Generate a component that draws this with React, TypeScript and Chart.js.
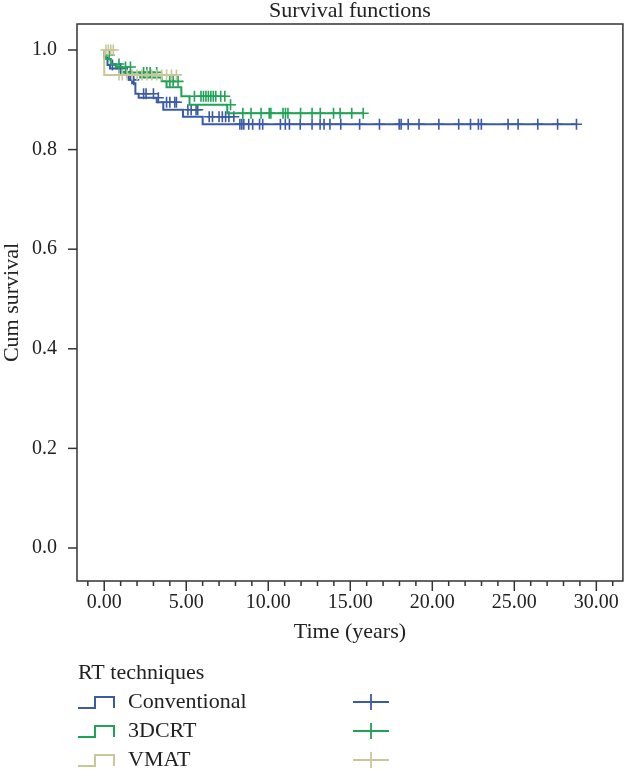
import React, { useEffect, useRef } from "react";
import { Chart, registerables } from "chart.js";

Chart.register(...registerables);

// ---------- Text ----------
const chartTitle = "Survival functions";
const xAxisTitle = "Time (years)";
const yAxisTitle = "Cum survival";
const legendTitle = "RT techniques";
const groupNames = ["Conventional", "3DCRT", "VMAT"];

// ---------- Ticks ----------
const xTickValues = [0, 5, 10, 15, 20, 25, 30];
const yTickValues = [0, 0.2, 0.4, 0.6, 0.8, 1.0];

// ---------- Conventional ----------
const conventionalTimes = [0, 0.2, 0.35, 0.9, 1.3, 1.5, 1.7, 1.9, 2.1, 3.2, 3.6, 4.8, 6.0, 8.2];
const conventionalSurvival = [1.0, 0.985, 0.97, 0.963, 0.956, 0.95, 0.94, 0.933, 0.912, 0.904, 0.895, 0.88, 0.866, 0.851];
const conventionalCensored = [
  0.5, 1.0, 1.4, 1.6, 1.8, 2.4, 2.55, 3.0, 3.3, 3.8, 4.0, 4.3, 4.4, 5.1, 5.3, 5.6, 5.7,
  6.4, 6.6, 7.0, 7.2, 7.4, 7.6, 7.9, 8.27, 8.39, 8.51, 8.81, 9.05, 9.47, 9.66, 10.74,
  11.04, 11.29, 11.95, 12.67, 13.16, 13.4, 13.76, 14.42, 15.57, 16.78, 17.98, 18.1,
  18.53, 19.19, 20.4, 21.61, 22.33, 22.81, 22.99, 24.62, 25.23, 26.43, 27.64, 28.79,
];

// ---------- 3DCRT ----------
const crt3dTimes = [0, 0.1, 0.4, 0.7, 1.1, 2.2, 3.5, 3.8, 4.7, 5.2, 7.5, 8.3];
const crt3dSurvival = [1.0, 0.99, 0.982, 0.972, 0.966, 0.955, 0.945, 0.937, 0.925, 0.907, 0.89, 0.873];
const crt3dCensored = [
  0.3, 0.9, 1.3, 1.6, 2.4, 2.6, 2.8, 3.2, 4.0, 4.2, 4.5, 5.5, 5.9, 6.05, 6.2, 6.35, 6.5,
  6.65, 6.8, 7.1, 7.35, 7.7, 8.45, 8.95, 9.56, 10.06, 10.16, 10.9, 11.05, 11.2, 11.97,
  12.67, 13.17, 13.98, 14.38, 15.09, 15.79,
];

// ---------- VMAT ----------
const vmatTimes = [0, 0.65];
const vmatSurvival = [1.0, 0.95];
const vmatCensored = [0.1, 0.25, 0.4, 0.55, 0.9, 1.1, 1.4, 1.7, 2.0, 2.3, 2.6, 2.9, 3.2, 3.5, 3.8, 4.1, 4.4];

// ---------- Styling ----------
const BLUE = "#3a5aa8";
const GREEN = "#20a257";
const TAN = "#c8c79a";
const FRAME = "#333333";
const TEXT = "#222222";
const FONT = '"Liberation Serif", "Times New Roman", serif';

function survivalAt(times: number[], surv: number[], t: number) {
  let s = surv[0];
  for (let i = 0; i < times.length; i++) if (times[i] <= t) s = surv[i];
  return s;
}

const groups = [
  { name: groupNames[2], times: vmatTimes, surv: vmatSurvival, cens: vmatCensored, color: TAN },
  { name: groupNames[1], times: crt3dTimes, surv: crt3dSurvival, cens: crt3dCensored, color: GREEN },
  { name: groupNames[0], times: conventionalTimes, surv: conventionalSurvival, cens: conventionalCensored, color: BLUE },
];

const decorPlugin = {
  id: "decor",
  afterDraw(chart: any) {
    const { ctx, chartArea: a, scales } = chart;
    const x = scales.x;
    const y = scales.y;
    ctx.save();
    ctx.strokeStyle = FRAME;
    ctx.lineWidth = 1.5;
    ctx.strokeRect(a.left, a.top, a.right - a.left, a.bottom - a.top);
    const seg = (x1: number, y1: number, x2: number, y2: number) => {
      ctx.beginPath();
      ctx.moveTo(x1, y1);
      ctx.lineTo(x2, y2);
      ctx.stroke();
    };
    yTickValues.forEach((v) => {
      const py = y.getPixelForValue(v);
      seg(a.left - 9, py, a.left, py);
    });
    for (let v = Math.ceil(x.min); v <= Math.floor(x.max); v++) {
      const px = x.getPixelForValue(v);
      seg(px, a.bottom, px, a.bottom + (v % 5 === 0 ? 10 : 5));
    }

    ctx.fillStyle = TEXT;
    const cx = (a.left + a.right) / 2;
    ctx.font = `22px ${FONT}`;
    ctx.textAlign = "center";
    ctx.textBaseline = "alphabetic";
    ctx.fillText(chartTitle, cx, 17);
    ctx.textBaseline = "middle";
    ctx.fillText(xAxisTitle, cx, 632);
    ctx.save();
    ctx.translate(12, (a.top + a.bottom) / 2);
    ctx.rotate(-Math.PI / 2);
    ctx.fillText(yAxisTitle, 0, 0);
    ctx.restore();

    // legend
    ctx.textAlign = "left";
    ctx.fillText(legendTitle, 78, 673);
    const legendOrder = [groups[2], groups[1], groups[0]];
    legendOrder.forEach((g, i) => {
      const ly = 702 + 29 * i;
      ctx.strokeStyle = g.color;
      ctx.lineWidth = 2;
      ctx.beginPath();
      ctx.moveTo(78, ly + 6);
      ctx.lineTo(95, ly + 6);
      ctx.lineTo(95, ly - 5);
      ctx.lineTo(114, ly - 5);
      ctx.lineTo(114, ly + 6);
      ctx.stroke();
      ctx.fillStyle = TEXT;
      ctx.fillText(g.name, 128, ly);
      ctx.lineWidth = 1.8;
      seg(353, ly, 389, ly);
      seg(371, ly - 8, 371, ly + 8);
    });
    ctx.restore();
  },
};

export default function App() {
  const ref = useRef<HTMLCanvasElement | null>(null);
  useEffect(() => {
    if (!ref.current) return;
    Chart.defaults.font.family = FONT;
    Chart.defaults.color = TEXT;
    const datasets: any[] = [];
    groups.forEach((g) => {
      datasets.push({
        label: g.name + " censored",
        data: g.cens.map((t) => ({ x: t, y: survivalAt(g.times, g.surv, t) })),
        showLine: false,
        pointStyle: "cross",
        pointRadius: 5.5,
        pointBorderWidth: 1.6,
        borderColor: g.color,
        backgroundColor: g.color,
      });
      const pts = g.times.map((t, i) => ({ x: t, y: g.surv[i] }));
      const end = Math.max(...g.cens);
      pts.push({ x: end, y: g.surv[g.surv.length - 1] });
      datasets.push({
        label: g.name,
        data: pts,
        showLine: true,
        stepped: "after",
        borderColor: g.color,
        borderWidth: 2,
        pointRadius: 0,
        fill: false,
      });
    });
    const chart = new Chart(ref.current, {
      type: "scatter",
      data: { datasets },
      options: {
        animation: false,
        responsive: false,
        maintainAspectRatio: false,
        layout: { padding: { left: 0, right: 1, top: 24, bottom: 0 } },
        plugins: { legend: { display: false }, title: { display: false }, tooltip: { enabled: false } },
        scales: {
          x: {
            type: "linear",
            min: -1.66,
            max: 31.62,
            afterFit: (s: any) => {
              s.height = 189;
            },
            afterBuildTicks: (s: any) => {
              s.ticks = xTickValues.map((v) => ({ value: v }));
            },
            grid: { display: true, drawOnChartArea: false, drawTicks: true, tickLength: 10, color: "rgba(0,0,0,0)" },
            border: { display: false },
            ticks: {
              padding: 0,
              maxRotation: 0,
              autoSkip: false,
              font: { size: 20, family: FONT },
              color: TEXT,
              callback: (v: any) => Number(v).toFixed(2),
            },
          },
          y: {
            type: "linear",
            min: -0.0663,
            max: 1.0522,
            afterFit: (s: any) => {
              s.width = 77;
            },
            afterBuildTicks: (s: any) => {
              s.ticks = yTickValues.map((v) => ({ value: v }));
            },
            grid: { display: true, drawOnChartArea: false, drawTicks: true, tickLength: 10, color: "rgba(0,0,0,0)" },
            border: { display: false },
            ticks: {
              padding: 10,
              autoSkip: false,
              font: { size: 20, family: FONT },
              color: TEXT,
              callback: (v: any) => Number(v).toFixed(1),
            },
          },
        },
      },
      plugins: [decorPlugin],
    });
    return () => chart.destroy();
  }, []);
  return (
    <div style={{ position: "absolute", left: 0, top: 0, width: 630, height: 770, background: "#fff" }}>
      <canvas ref={ref} width={630} height={770} style={{ display: "block" }} />
    </div>
  );
}
